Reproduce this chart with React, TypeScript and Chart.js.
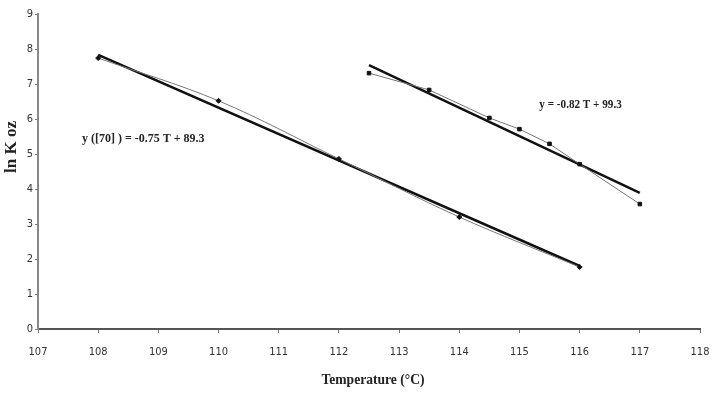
import React, { useEffect, useRef } from "react";
import { Chart, registerables } from "chart.js";

Chart.register(...registerables);

const series1T = [108, 110, 112, 114, 116];
const series1Y = [7.74, 6.52, 4.86, 3.2, 1.77];
const fit1T = [108, 116];
const fit1Y = [7.83, 1.8];

const series2T = [112.5, 113.5, 114.5, 115, 115.5, 116, 117];
const series2Y = [7.31, 6.83, 6.03, 5.71, 5.29, 4.71, 3.57];
const fit2T = [112.5, 117];
const fit2Y = [7.54, 3.89];

const eq1 = "y ([70] ) = -0.75 T + 89.3";
const eq2 = "y = -0.82 T + 99.3";
const eq1Pos = [107.73, 5.43];
const eq2Pos = [115.33, 6.4];

const xTitle = "Temperature (°C)";
const yTitle = "ln K oz";

const pts = (xs: number[], ys: number[]) => xs.map((x, i) => ({ x, y: ys[i] }));

const annotPlugin = {
  id: "annot",
  afterDatasetsDraw(chart: any) {
    const ctx = chart.ctx;
    const xs = chart.scales.x;
    const ys = chart.scales.y;
    ctx.save();
    ctx.fillStyle = "#222";
    ctx.font = "bold 12px 'Liberation Serif', 'DejaVu Serif', serif";
    ctx.textBaseline = "middle";
    ctx.textAlign = "left";
    const draw = (t: string, p: number[], sx: number) => {
      const px = xs.getPixelForValue(p[0]);
      const py = ys.getPixelForValue(p[1]);
      ctx.save();
      ctx.translate(px, py);
      ctx.scale(sx, 1);
      ctx.fillText(t, 0, 0);
      ctx.restore();
    };
    draw(eq1, eq1Pos, 1.0);
    draw(eq2, eq2Pos, 0.93);
    // axis titles
    ctx.textAlign = "center";
    ctx.font = "bold 14px 'Liberation Serif', 'DejaVu Serif', serif";
    ctx.save();
    ctx.translate(373, 380);
    ctx.scale(0.97, 1);
    ctx.fillText(xTitle, 0, 0);
    ctx.restore();
    ctx.save();
    ctx.font = "bold 17px 'Liberation Serif', 'DejaVu Serif', serif";
    ctx.translate(12, 147);
    ctx.rotate(-Math.PI / 2);
    ctx.fillText(yTitle, 0, 0);
    ctx.restore();
    ctx.restore();
  },
};

export default function App() {
  const ref = useRef<HTMLCanvasElement | null>(null);
  useEffect(() => {
    document.body.style.margin = "0";
    const tickFont = { family: "'Liberation Sans Narrow', 'DejaVu Sans Condensed', 'Liberation Sans', sans-serif", size: 11 };
    const chart = new Chart(ref.current as HTMLCanvasElement, {
      type: "scatter",
      data: {
        datasets: [
          {
            label: "s1",
            data: pts(series1T, series1Y),
            showLine: true,
            borderColor: "#777",
            borderWidth: 1,
            tension: 0.35,
            pointStyle: "rectRot",
            pointRadius: 2.5,
            pointBackgroundColor: "#111",
            pointBorderColor: "#111",
            order: 0,
          },
          {
            label: "s2",
            data: pts(series2T, series2Y),
            showLine: true,
            borderColor: "#777",
            borderWidth: 1,
            tension: 0,
            pointStyle: "rect",
            pointRadius: 2.5,
            pointBackgroundColor: "#111",
            pointBorderColor: "#111",
            order: 0,
          },
          {
            label: "f1",
            data: pts(fit1T, fit1Y),
            showLine: true,
            borderColor: "#111",
            borderWidth: 2.5,
            pointRadius: 0,
            order: 1,
          },
          {
            label: "f2",
            data: pts(fit2T, fit2Y),
            showLine: true,
            borderColor: "#111",
            borderWidth: 2.5,
            pointRadius: 0,
            order: 1,
          },
        ],
      },
      options: {
        animation: false,
        responsive: false,
        layout: { padding: { left: 0, right: 14, top: 14, bottom: 0 } },
        plugins: { legend: { display: false }, tooltip: { enabled: false } },
        scales: {
          x: {
            type: "linear",
            min: 107,
            max: 118,
            afterFit: (s: any) => { s.height = 66; s.paddingLeft = 0; s.paddingRight = 0; },
            ticks: { stepSize: 1, font: tickFont, color: "#333", padding: 13 },
            grid: { drawOnChartArea: false, tickLength: 4, color: "#777", tickColor: "#777" },
            border: { color: "#555", width: 2 },
          },
          y: {
            min: 0,
            max: 9,
            afterFit: (s: any) => { s.width = 38; s.paddingTop = 0; s.paddingBottom = 0; },
            ticks: { stepSize: 1, font: tickFont, color: "#333", padding: 2 },
            grid: { drawOnChartArea: false, tickLength: 3, color: "#777", tickColor: "#777" },
            border: { color: "#888", width: 2 },
          },
        },
      },
      plugins: [annotPlugin],
    });
    return () => chart.destroy();
  }, []);
  return <canvas ref={ref} width={714} height={395} style={{ display: "block" }} />;
}
